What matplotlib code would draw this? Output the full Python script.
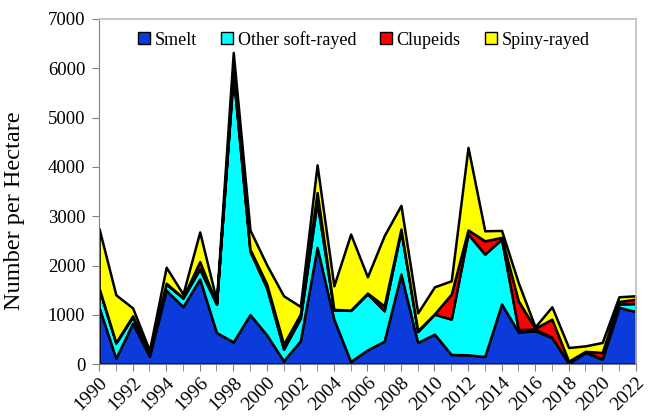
import matplotlib
matplotlib.use("Agg")
import matplotlib.pyplot as plt
from matplotlib.patches import Patch
import numpy as np

plt.rcParams['font.family'] = ['Liberation Serif', 'DejaVu Serif']

years = list(range(1990, 2023))

# values per group (number per hectare)
smelt = [1150, 120, 830, 160, 1500, 1165, 1727, 641, 450, 1005, 590, 67, 473,
         2366, 913, 54, 290, 465, 1826, 439, 608, 195, 189, 155, 1220, 650,
         676, 541, 20, 236, 101, 1149, 1068]
other_soft = [375, 310, 130, 43, 125, 175, 203, 576, 5430, 1280, 950, 237, 457,
              924, 187, 1036, 1135, 617, 884, 221, 406, 718, 2448, 2076, 1315,
              50, 34, 4, 5, 10, 9, 68, 162]
clupeids = [15, 10, 20, 7, 15, 10, 150, 13, 70, 45, 80, 102, 84,
            190, 10, 5, 15, 101, 30, 20, 6, 507, 85, 270, 35, 584,
            17, 368, 35, 14, 126, 53, 88]
spiny = [1205, 965, 160, 70, 325, 70, 600, 60, 370, 388, 390, 980, 156,
         560, 479, 1542, 331, 1421, 480, 360, 548, 270, 1673, 203, 141, 366,
         30, 250, 277, 111, 203, 96, 68]

labels = ['Smelt', 'Other soft-rayed', 'Clupeids', 'Spiny-rayed']
colors = ['#0c3bdb', '#00ffff', '#ff0000', '#ffff00']

fig = plt.figure(figsize=(6.52, 4.2), dpi=100)
ax = fig.add_axes([0.152, 0.133, 0.823, 0.822])

ax.stackplot(years, smelt, other_soft, clupeids, spiny, colors=colors,
             edgecolor='black', linewidth=1.8)

ax.set_xlim(1990, 2022)
ax.set_ylim(0, 7000)
ax.set_yticks(np.arange(0, 7001, 1000))
ax.set_xticks(years, minor=True)
ax.set_xticks(years[::2])
ax.set_xticklabels([str(y) for y in years[::2]], rotation=45, ha='right',
                   rotation_mode='anchor')
ax.tick_params(axis='both', which='both', direction='out', color='#808080',
               labelsize=13.5)
ax.tick_params(axis='x', which='both', length=5, pad=2, labelsize=14)
ax.tick_params(axis='y', length=5, pad=5)
ax.set_ylabel('Number per Hectare', fontsize=17.5)
ax.yaxis.set_label_coords(-0.138, 0.445)

for side in ['left', 'bottom']:
    ax.spines[side].set_color('#808080')
for side in ['top', 'right']:
    ax.spines[side].set_color('#bfbfbf')
    ax.spines[side].set_linewidth(1.2)

handles = [Patch(facecolor=c, edgecolor='black', linewidth=1.0) for c in colors]
ax.legend(handles, labels, loc='upper center', bbox_to_anchor=(0.4935, 1.0),
          ncol=4, frameon=False, fontsize=13, handlelength=0.65,
          handleheight=0.65, handletextpad=0.25, columnspacing=1.35,
          borderaxespad=0.25)

fig.savefig('out.png', dpi=100)
